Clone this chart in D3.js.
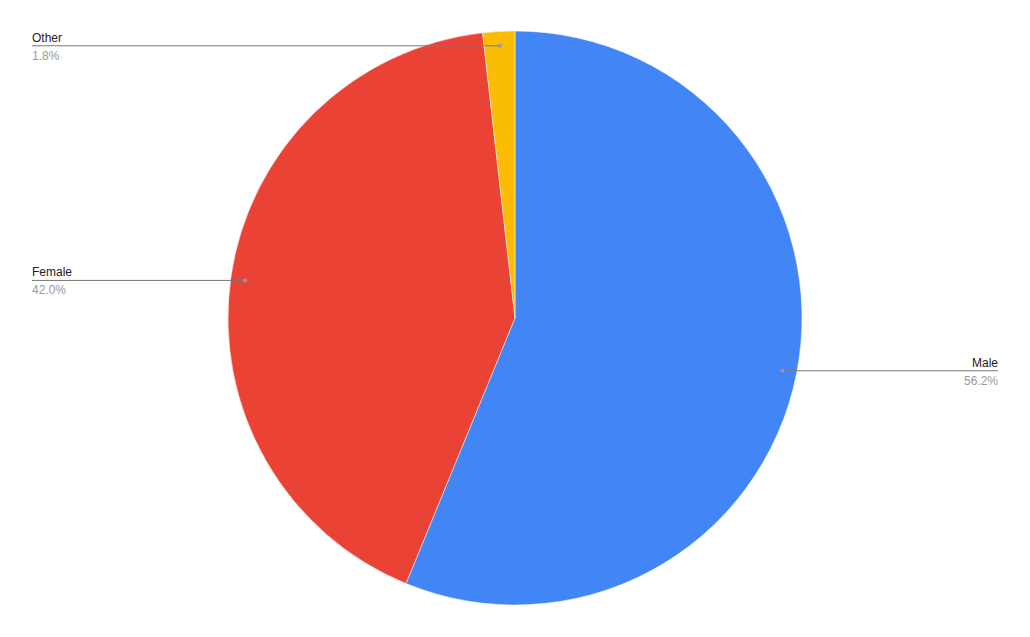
<!DOCTYPE html>
<html>
<head>
<meta charset="utf-8">
<script src="https://cdn.jsdelivr.net/npm/d3@7"></script>
<style>
  body { margin: 0; background: #fff; }
  svg { display: block; font-family: Arial, "Liberation Sans", sans-serif; }
</style>
</head>
<body>
<div id="chart"></div>
<script>
// chart data
const categories = ["Male", "Female", "Other"];
const shares = [56.2, 42.0, 1.8];
const colors = ["#4285F4", "#EA4335", "#FBBC04"];

const width = 1030;
const height = 637;
const cx = 515, cy = 318, radius = 287;
const labelLeft = 32, labelRight = 998;

const svg = d3.select("#chart")
    .append("svg")
    .attr("width", width)
    .attr("height", height);

const pie = d3.pie()
    .sort(null)
    .value(d => d.value);

const arcs = pie(categories.map((c, i) => ({ name: c, value: shares[i], color: colors[i] })));

const arc = d3.arc().innerRadius(0).outerRadius(radius);
const dotArc = d3.arc().innerRadius(radius * 0.95).outerRadius(radius * 0.95);

const g = svg.append("g")
    .attr("transform", `translate(${cx},${cy})`);

g.selectAll("path.slice")
    .data(arcs)
    .join("path")
    .attr("class", "slice")
    .attr("d", arc)
    .attr("fill", d => d.data.color)
    .attr("stroke", "#fff")
    .attr("stroke-width", 0.5);

// leader lines and labels
const labels = g.selectAll("g.label")
    .data(arcs)
    .join("g")
    .attr("class", "label");

labels.each(function(d) {
    const [px, py] = dotArc.centroid(d);
    const mid = (d.startAngle + d.endAngle) / 2;
    const right = Math.sin(mid) > 0;
    const endX = right ? labelRight - cx : labelLeft - cx;
    const sel = d3.select(this);

    sel.append("line")
        .attr("x1", px).attr("y1", py)
        .attr("x2", endX).attr("y2", py)
        .attr("stroke", "#777")
        .attr("stroke-width", 1);

    sel.append("circle")
        .attr("cx", px).attr("cy", py)
        .attr("r", 2)
        .attr("fill", "#999");

    sel.append("text")
        .attr("x", endX)
        .attr("y", py - 4)
        .attr("text-anchor", right ? "end" : "start")
        .attr("fill", "#222")
        .style("font-size", "12px")
        .text(d.data.name);

    sel.append("text")
        .attr("x", endX)
        .attr("y", py + 14)
        .attr("text-anchor", right ? "end" : "start")
        .attr("fill", "#999")
        .style("font-size", "12px")
        .text(d.data.value.toFixed(1) + "%");
});
</script>
</body>
</html>
